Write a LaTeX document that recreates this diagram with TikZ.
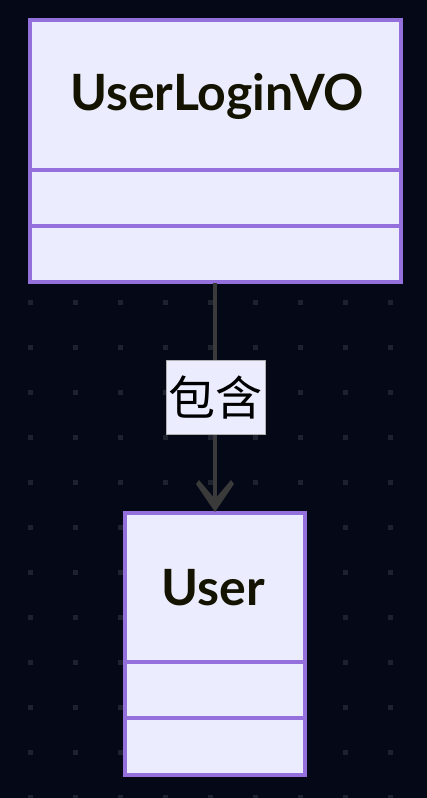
\documentclass[tikz,border=0pt]{standalone}
\usepackage{fontspec}
\setmainfont{Lato}
\newfontfamily\cjk{Noto Sans CJK SC}
\definecolor{bgc}{HTML}{050816}
\definecolor{dotc}{HTML}{1E212E}
\definecolor{boxfill}{HTML}{ECECFF}
\definecolor{boxline}{HTML}{9370DB}
\definecolor{txt}{HTML}{131300}
\definecolor{edgec}{HTML}{3A3A3A}
\tikzset{
  classbox/.style={draw=boxline, fill=boxfill, line width=3.2pt},
  sepline/.style={draw=boxline, line width=3.2pt},
  title/.style={text=txt, font=\fontsize{50}{50}\selectfont\bfseries, inner sep=0pt},
  edgelabel/.style={fill=boxfill, draw=edgec!40, line width=0.5pt, text=black, font=\cjk\fontsize{47}{47}\selectfont, minimum width=99pt, minimum height=74pt, inner sep=0pt},
  conn/.style={draw=edgec, line width=3.2pt},
  headc/.style={fill=edgec}
}
\begin{document}
\begin{tikzpicture}[x=1pt,y=-1pt]
\fill[bgc] (0,0) rectangle (427,798);
\useasboundingbox (0,0) rectangle (427,798);
\foreach \i in {0,...,8} {
  \foreach \j in {0,...,12} {
    \fill[dotc] ({30+45*\i-2.5},{302+45*\j-2.5}) rectangle ++(5,5);
  }
}
% UserLoginVO box
\draw[classbox] (30,20) rectangle (401,282);
\draw[sepline] (30,170) -- (401,170);
\draw[sepline] (30,226) -- (401,226);
\node[title] (vo) at (217,96) {UserLoginVO};
\coordinate (votop) at (215,283);
% User box
\draw[classbox] (125,513) rectangle (305,775);
\draw[sepline] (125,662) -- (305,662);
\draw[sepline] (125,718) -- (305,718);
\node[title] (user) at (213,588) {User};
\coordinate (userbot) at (215,512);
\draw[conn] (votop) -- ([yshift=10pt]userbot);
\fill[headc] (userbot) -- ++(-19,-28) -- ++(3,-4) -- ++(16,19) -- ++(16,-19) -- ++(3,4) -- cycle;
\node[edgelabel] (lbl) at (215.5,397) {包含};
\end{tikzpicture}
\end{document}
